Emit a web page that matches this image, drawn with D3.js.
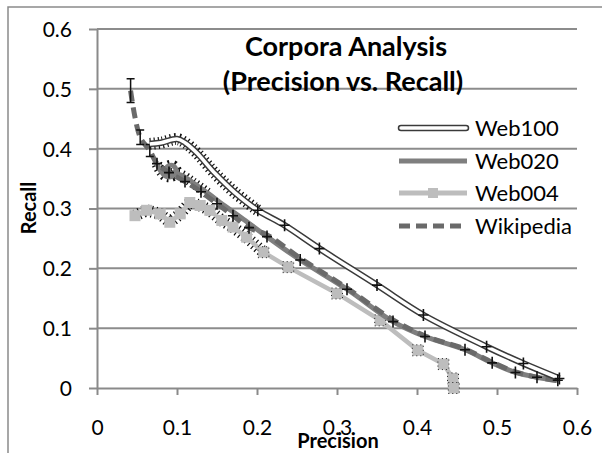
<!DOCTYPE html>
<html>
<head>
<meta charset="utf-8">
<script src="https://cdn.jsdelivr.net/npm/d3@7/dist/d3.min.js"></script>
<style>
body { margin: 0; background: #fff; }
text { font-family: Lato, "Open Sans", sans-serif; fill: #000; }
</style>
</head>
<body>
<svg id="chart" width="602" height="453"></svg>
<script>
// values
var xTicks = [0, 0.1, 0.2, 0.3, 0.4, 0.5, 0.6];
var yTicks = [0, 0.1, 0.2, 0.3, 0.4, 0.5, 0.6];
var seriesNames = ["Web100", "Web020", "Web004", "Wikipedia"];

var web100P = [0.066, 0.08, 0.1, 0.11, 0.124, 0.148, 0.172, 0.201, 0.2345, 0.278, 0.35, 0.408, 0.487, 0.533, 0.578];
var web100R = [0.408, 0.41, 0.416, 0.41, 0.394, 0.358, 0.327, 0.297, 0.272, 0.233, 0.172, 0.122, 0.069, 0.041, 0.016];

var web020P = [0.075, 0.08, 0.086, 0.094, 0.099, 0.095, 0.088, 0.086, 0.093, 0.105, 0.12, 0.14, 0.16, 0.18, 0.2125, 0.254, 0.3125, 0.37, 0.41, 0.46, 0.494, 0.523, 0.55, 0.576];
var web020R = [0.374, 0.362, 0.354, 0.354, 0.363, 0.372, 0.37, 0.362, 0.358, 0.356, 0.343, 0.324, 0.304, 0.285, 0.253, 0.214, 0.165, 0.111, 0.086, 0.064, 0.042, 0.026, 0.018, 0.013];

var web004P = [0.0475, 0.062, 0.079, 0.091, 0.104, 0.116, 0.129, 0.141, 0.156, 0.17, 0.187, 0.208, 0.239, 0.30, 0.354, 0.401, 0.433, 0.445, 0.446];
var web004R = [0.288, 0.297, 0.291, 0.277, 0.291, 0.31, 0.305, 0.297, 0.28, 0.269, 0.252, 0.227, 0.202, 0.158, 0.113, 0.063, 0.04, 0.016, 0.0];

var wikiP = [0.042, 0.054, 0.066, 0.075, 0.09, 0.11, 0.13, 0.15, 0.17, 0.19, 0.2125, 0.254, 0.3125, 0.37, 0.41, 0.46, 0.494, 0.523, 0.55, 0.576];
var wikiR = [0.497, 0.419, 0.397, 0.375, 0.36, 0.345, 0.328, 0.308, 0.288, 0.268, 0.256, 0.217, 0.167, 0.114, 0.087, 0.065, 0.043, 0.027, 0.018, 0.012];
var wikiErr = [0.02, 0.012, 0.01];

var svg = d3.select("#chart");
var x = d3.scaleLinear().domain([0, 0.6]).range([97, 577]);
var y = d3.scaleLinear().domain([0, 0.6]).range([388, 29]);

function pts(px, py) { return px.map(function(d, i) { return [d, py[i]]; }); }
var smooth = d3.line().x(function(d) { return x(d[0]); }).y(function(d) { return y(d[1]); }).curve(d3.curveCatmullRom.alpha(0.5));
var straight = d3.line().x(function(d) { return x(d[0]); }).y(function(d) { return y(d[1]); });

// outer frame
svg.append("path").attr("d", "M8,453V7H602").attr("fill", "none").attr("stroke", "#8a8a8a").attr("stroke-width", 1.5);

// gridlines
svg.append("g").selectAll("line").data(yTicks.slice(1)).enter().append("line")
	.attr("x1", x(0)).attr("x2", x(0.6))
	.attr("y1", function(d) { return y(d); }).attr("y2", function(d) { return y(d); })
	.attr("stroke", "#8c8c8c").attr("stroke-width", 2);

// axes
var gx = svg.append("g").attr("transform", "translate(0," + y(0) + ")")
	.call(d3.axisBottom(x).tickValues(xTicks).tickSize(7).tickSizeOuter(0).tickFormat(d3.format("")));
var gy = svg.append("g").attr("transform", "translate(" + x(0) + ",0)")
	.call(d3.axisLeft(y).tickValues(yTicks).tickSize(8).tickSizeOuter(0).tickFormat(d3.format("")));
[gx, gy].forEach(function(g) {
	g.select(".domain").attr("stroke", "#8a8a8a").attr("stroke-width", 2);
	g.selectAll(".tick line").attr("stroke", "#8a8a8a").attr("stroke-width", 2);
	g.selectAll(".tick text").attr("font-size", 21).attr("font-family", "Lato, sans-serif").attr("fill", "#000");
});
gx.selectAll(".tick text").attr("dy", null).attr("y", 47);
gy.selectAll(".tick text").attr("x", -25).attr("dy", "0.35em");

// Web004: dotted halo (error bars), line, square markers
var d004 = pts(web004P, web004R);
svg.append("path").attr("d", straight(d004.slice(0, 12))).attr("fill", "none")
	.attr("stroke", "#111").attr("stroke-width", 12).attr("stroke-dasharray", "1.2,3.2");
svg.append("path").attr("d", straight(d004)).attr("fill", "none")
	.attr("stroke", "#bdbdbd").attr("stroke-width", 4.5);
svg.append("g").selectAll("rect").data(d004).enter().append("rect")
	.attr("x", function(d) { return x(d[0]) - 5.5; }).attr("y", function(d) { return y(d[1]) - 5.5; })
	.attr("width", 11).attr("height", 11).attr("fill", "#bdbdbd")
	.attr("stroke", function(d, i) { return i >= 11 ? "#222" : "none"; })
	.attr("stroke-width", 1).attr("stroke-dasharray", "1,3");

// Web020
var d020 = pts(web020P, web020R);
svg.append("path").attr("d", smooth(d020.slice(0, 12))).attr("fill", "none")
	.attr("stroke", "#111").attr("stroke-width", 11).attr("stroke-dasharray", "1.2,3");
svg.append("path").attr("d", smooth(d020)).attr("fill", "none")
	.attr("stroke", "#7f7f7f").attr("stroke-width", 5).attr("stroke-linejoin", "round");

// Wikipedia
var dWiki = pts(wikiP, wikiR);
svg.append("path").attr("d", smooth(dWiki)).attr("fill", "none")
	.attr("stroke", "#6a6a6a").attr("stroke-width", 5).attr("stroke-dasharray", "11,6");
svg.append("g").selectAll("path").data(wikiErr).enter().append("path")
	.attr("d", function(e, i) {
		var cx = x(wikiP[i]), t = y(wikiR[i] + e), b = y(wikiR[i] - e);
		return "M" + cx + "," + t + "V" + b + "M" + (cx - 4) + "," + t + "H" + (cx + 4) + "M" + (cx - 4) + "," + b + "H" + (cx + 4);
	})
	.attr("stroke", "#111").attr("stroke-width", 1.5).attr("fill", "none");

// Web100 double line
var d100 = pts(web100P, web100R);
svg.append("path").attr("d", smooth(d100.slice(0, 8))).attr("fill", "none")
	.attr("stroke", "#111").attr("stroke-width", 12).attr("stroke-dasharray", "1.2,3");
svg.append("path").attr("d", smooth(d100)).attr("fill", "none")
	.attr("stroke", "#3a3a3a").attr("stroke-width", 6.5).attr("stroke-linejoin", "round");
svg.append("path").attr("d", smooth(d100)).attr("fill", "none")
	.attr("stroke", "#fff").attr("stroke-width", 3.5).attr("stroke-linejoin", "round");

// error crosses
var crosses = d100.slice(7).concat(d020.slice(14)).concat(dWiki.slice(3, 10));
svg.append("g").selectAll("path").data(crosses).enter().append("path")
	.attr("d", function(d) {
		var cx = x(d[0]), cy = y(d[1]);
		return "M" + (cx - 5) + "," + cy + "H" + (cx + 5) + "M" + cx + "," + (cy - 6) + "V" + (cy + 6);
	})
	.attr("stroke", "#111").attr("stroke-width", 1.6).attr("fill", "none");

// title
svg.append("text").attr("x", 346).attr("y", 56).attr("text-anchor", "middle")
	.attr("font-size", 27).attr("font-weight", "bold").text("Corpora Analysis");
svg.append("text").attr("x", 343).attr("y", 91).attr("text-anchor", "middle")
	.attr("font-size", 27).attr("font-weight", "bold").text("(Precision vs. Recall)");

// axis titles
svg.append("text").attr("x", 338).attr("y", 448).attr("text-anchor", "middle")
	.attr("font-size", 20).attr("font-weight", "bold").text("Precision");
svg.append("text").attr("transform", "translate(36,208) rotate(-90)").attr("text-anchor", "middle")
	.attr("font-size", 20).attr("font-weight", "bold").text("Recall");

// legend
var legY = [128, 161, 193, 226];
var leg = svg.append("g").selectAll("g").data(seriesNames).enter().append("g")
	.attr("transform", function(d, i) { return "translate(0," + legY[i] + ")"; });
leg.append("text").attr("x", 475).attr("dy", "0.35em").attr("font-size", 22).text(function(d) { return d; });
leg.each(function(d, i) {
	var g = d3.select(this);
	if (i === 0) {
		g.append("line").attr("x1", 401).attr("x2", 466).attr("stroke", "#3a3a3a").attr("stroke-width", 6.5).attr("stroke-linecap", "round");
		g.append("line").attr("x1", 401).attr("x2", 466).attr("stroke", "#fff").attr("stroke-width", 3.5).attr("stroke-linecap", "round");
	} else if (i === 1) {
		g.append("line").attr("x1", 399).attr("x2", 467).attr("stroke", "#7f7f7f").attr("stroke-width", 5);
	} else if (i === 2) {
		g.append("line").attr("x1", 399).attr("x2", 467).attr("stroke", "#bdbdbd").attr("stroke-width", 5);
		g.append("rect").attr("x", 428).attr("y", -5).attr("width", 10).attr("height", 10).attr("fill", "#bdbdbd");
	} else {
		g.append("line").attr("x1", 399).attr("x2", 467).attr("stroke", "#6a6a6a").attr("stroke-width", 5).attr("stroke-dasharray", "11,6");
	}
});
</script>
</body>
</html>
